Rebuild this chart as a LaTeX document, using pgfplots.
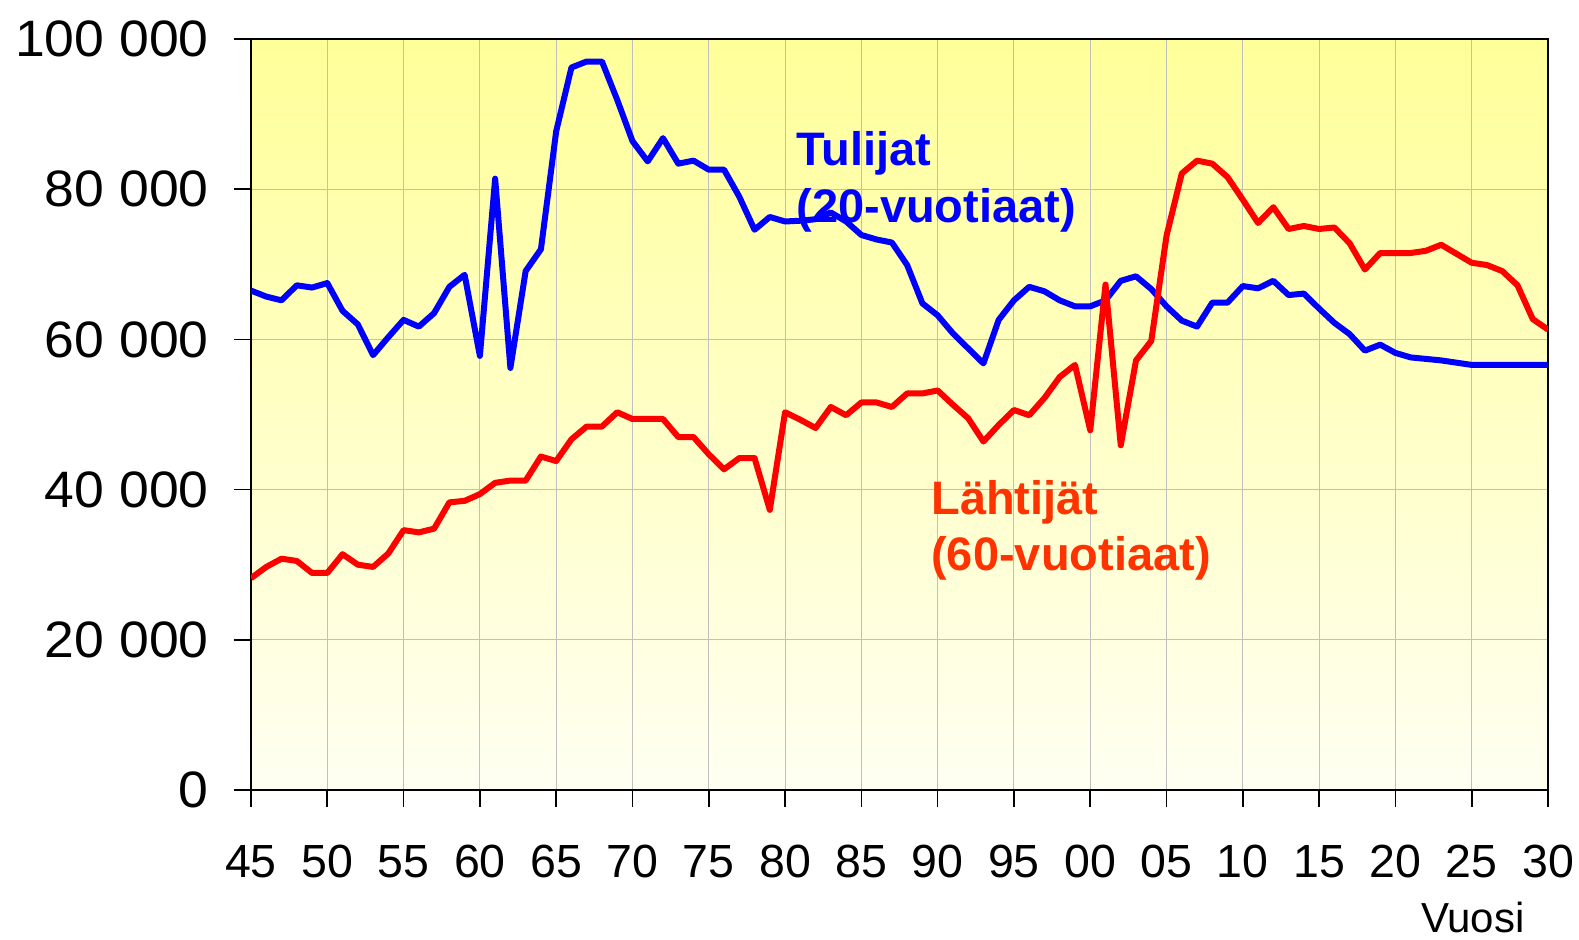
\documentclass[border=0pt]{standalone}
\usepackage{fontspec}
\setmainfont{Liberation Sans}
\usepackage{graphicx}
\usepackage{pgfplots}
\pgfplotsset{compat=1.18}
\definecolor{lineblue}{RGB}{0,0,255}
\definecolor{linered}{RGB}{255,0,0}
\definecolor{labelred}{RGB}{255,51,0}
\definecolor{gridgray}{RGB}{192,192,192}
\definecolor{bgtop}{RGB}{255,255,153}
\definecolor{bgbot}{RGB}{255,255,242}
\newcommand\yl[1]{\scalebox{1.045}[1]{#1}}

\pgfplotstableread{
year val
1945 66500
1946 65700
1947 65200
1948 67200
1949 66900
1950 67500
1951 63800
1952 62000
1953 57900
1954 60300
1955 62600
1956 61700
1957 63500
1958 67000
1959 68600
1960 57800
1961 81400
1962 56200
1963 69100
1964 72000
1965 87700
1966 96200
1967 97000
1968 97000
1969 91900
1970 86400
1971 83700
1972 86800
1973 83400
1974 83800
1975 82600
1976 82600
1977 79000
1978 74600
1979 76300
1980 75700
1981 75800
1982 76000
1983 76900
1984 75700
1985 73900
1986 73300
1987 72900
1988 69900
1989 64800
1990 63200
1991 60800
1992 58800
1993 56800
1994 62600
1995 65200
1996 67000
1997 66400
1998 65200
1999 64400
2000 64400
2001 65200
2002 67800
2003 68400
2004 66700
2005 64400
2006 62500
2007 61700
2008 64900
2009 64900
2010 67100
2011 66800
2012 67800
2013 65900
2014 66100
2015 64100
2016 62200
2017 60700
2018 58500
2019 59300
2020 58200
2021 57600
2022 57400
2023 57200
2024 56900
2025 56600
2026 56600
2027 56600
2028 56600
2029 56600
2030 56600
}\tulijat

\pgfplotstableread{
year val
1945 28200
1946 29700
1947 30800
1948 30500
1949 28900
1950 28900
1951 31400
1952 30000
1953 29700
1954 31500
1955 34600
1956 34300
1957 34800
1958 38300
1959 38500
1960 39400
1961 40900
1962 41200
1963 41200
1964 44400
1965 43800
1966 46700
1967 48400
1968 48400
1969 50300
1970 49400
1971 49400
1972 49400
1973 47000
1974 47000
1975 44700
1976 42700
1977 44200
1978 44200
1979 37300
1980 50300
1981 49300
1982 48200
1983 51000
1984 49900
1985 51600
1986 51600
1987 51000
1988 52800
1989 52800
1990 53200
1991 51300
1992 49500
1993 46400
1994 48600
1995 50600
1996 49900
1997 52200
1998 55000
1999 56600
2000 47900
2001 67300
2002 45900
2003 57200
2004 59800
2005 73800
2006 82100
2007 83800
2008 83400
2009 81600
2010 78600
2011 75500
2012 77600
2013 74700
2014 75100
2015 74700
2016 74900
2017 72800
2018 69300
2019 71500
2020 71500
2021 71500
2022 71800
2023 72600
2024 71400
2025 70200
2026 69900
2027 69100
2028 67200
2029 62700
2030 61300
}\lahtijat

\begin{document}
\begin{tikzpicture}
\useasboundingbox (0,0) rectangle (789.5pt,470pt);
\begin{axis}[
  at={(125.5pt,75pt)}, anchor=south west,
  scale only axis, width=648.5pt, height=375.5pt,
  xmin=1945, xmax=2030, ymin=0, ymax=100000,
  xtick={1945,1950,...,2030},
  xticklabels={45,50,55,60,65,70,75,80,85,90,95,00,05,10,15,20,25,30},
  ytick={0,20000,40000,60000,80000,100000},
  yticklabels={\yl{0},\yl{20 000},\yl{40 000},\yl{60 000},\yl{80 000},\yl{100 000}},
  scaled ticks=false,
  axis background/.style={shade, top color=bgtop, bottom color=bgbot},
  grid=major,
  major grid style={gridgray, line width=0.5pt},
  axis line style={black, line width=0.8pt},
  tick style={black, line width=0.8pt},
  tick align=outside, xtick pos=bottom, ytick pos=left,
  major tick length=8.5pt,
  xticklabel style={font=\fontsize{23.25pt}{28pt}\selectfont, anchor=north, inner sep=0pt},
  yticklabel style={font=\fontsize{25.6pt}{30pt}\selectfont, anchor=east, inner sep=0pt},
  xticklabel shift=19pt,
  yticklabel shift=12.5pt,
  xlabel={Vuosi},
  xlabel style={at={(axis description cs:0.942,0)}, anchor=base, yshift=-71.5pt, inner sep=0pt, font=\fontsize{21pt}{25pt}\selectfont},
]
\addplot[lineblue, line width=3pt, line join=round, no marks] table[x=year,y=val] {\tulijat};
\addplot[linered, line width=3pt, line join=round, no marks] table[x=year,y=val] {\lahtijat};
\node[anchor=base west, inner sep=0pt, text=lineblue, font=\fontsize{23.5pt}{28pt}\selectfont\bfseries] at (axis cs:1980.72,83090) {Tulijat};
\node[anchor=base west, inner sep=0pt, text=lineblue, font=\fontsize{23.5pt}{28pt}\selectfont\bfseries] at (axis cs:1980.72,75500) {(20-vuotiaat)};
\node[anchor=base west, inner sep=0pt, text=labelred, font=\fontsize{23.5pt}{28pt}\selectfont\bfseries] at (axis cs:1989.56,36620) {Lähtijät};
\node[anchor=base west, inner sep=0pt, text=labelred, font=\fontsize{23.5pt}{28pt}\selectfont\bfseries] at (axis cs:1989.56,29290) {(60-vuotiaat)};
\end{axis}
\end{tikzpicture}
\end{document}
